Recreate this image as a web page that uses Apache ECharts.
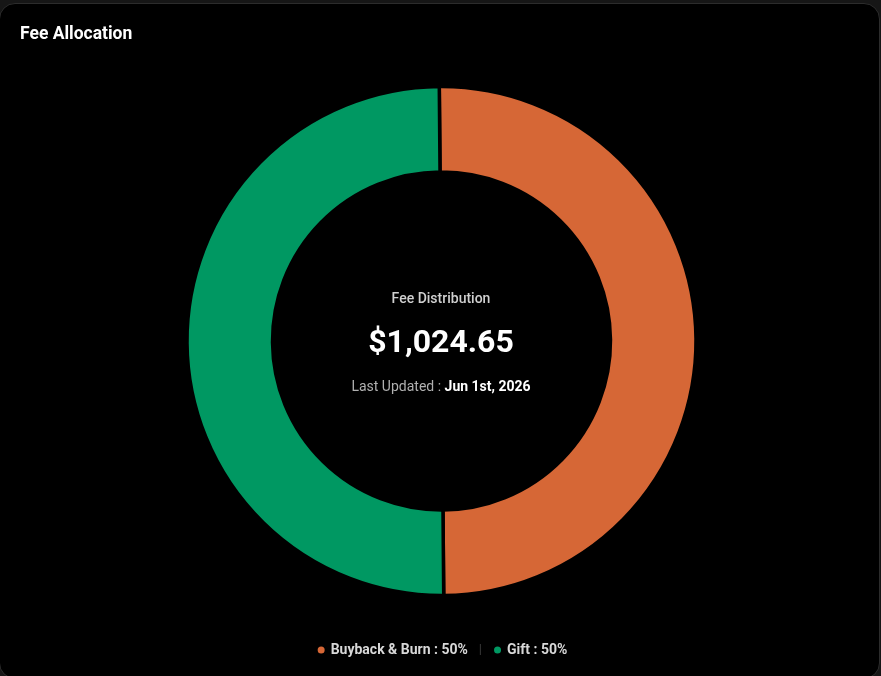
<!DOCTYPE html>
<html>
<head>
<meta charset="utf-8">
<script src="https://cdn.jsdelivr.net/npm/echarts@6/dist/echarts.min.js"></script>
<style>
    html, body { margin: 0; padding: 0; background: #161616; overflow: hidden; }
    #card {
        position: absolute;
        left: -1px;
        top: 3px;
        width: 881px;
        height: 676px;
        box-sizing: border-box;
        border: 1px solid #2c2c2c;
        border-radius: 16px;
        background: #000;
        overflow: hidden;
    }
    #chart { position: absolute; left: 1px; top: -4px; width: 881px; height: 676px; }
</style>
</head>
<body>
<div id="card"><div id="chart"></div></div>
<script>
    // slices
    var categories = ['Buyback & Burn', 'Gift'];
    var shares = [50, 50];
    var colors = ['#d66736', '#009862'];
    // centre text
    var totalFees = '$1,024.65';
    var lastUpdated = 'Jun 1st, 2026';

    var total = shares.reduce(function (a, b) { return a + b; }, 0);
    var pieData = categories.map(function (c, i) {
        return { name: c, value: shares[i], itemStyle: { color: colors[i] } };
    });

    var chart = echarts.init(document.getElementById('chart'));
    var option = {
        backgroundColor: 'transparent',
        textStyle: { fontFamily: 'Roboto' },
        title: {
            text: 'Fee Allocation',
            left: 14,
            top: 21,
            textStyle: { color: '#fff', fontSize: 17.5, fontWeight: 'bold', fontFamily: 'Roboto' }
        },
        legend: {
            data: categories,
            left: 'center',
            top: 638,
            icon: 'circle',
            itemWidth: 9,
            itemHeight: 9,
            itemGap: 10,
            formatter: function (name) {
                var i = categories.indexOf(name);
                var pct = Math.round(shares[i] / total * 100);
                var txt = name + ' : ' + pct + '%';
                if (i < categories.length - 1) return '{t|' + txt + '}{s||}';
                return '{t|' + txt + '}';
            },
            textStyle: {
                color: '#d8d8d8',
                fontSize: 14,
                fontWeight: 'bold',
                fontFamily: 'Roboto',
                rich: {
                    t: { color: '#d8d8d8', fontSize: 14, fontWeight: 'bold', fontFamily: 'Roboto' },
                    s: { color: '#3a3a3a', fontSize: 13, fontWeight: 'normal', padding: [0, 0, 0, 11] }
                }
            }
        },
        graphic: [
            {
                type: 'text', x: 440, y: 299,
                style: { text: 'Fee Distribution', fill: '#d0d0d0', font: '500 14px Roboto', textAlign: 'center', textVerticalAlign: 'middle' }
            },
            {
                type: 'text', x: 440, y: 344,
                style: { text: totalFees, fill: '#fff', font: 'bold 32px Roboto', textAlign: 'center', textVerticalAlign: 'middle' }
            },
            {
                type: 'text', x: 440, y: 387,
                style: {
                    text: '{a|Last Updated : }{b|' + lastUpdated + '}',
                    textAlign: 'center', textVerticalAlign: 'middle',
                    rich: {
                        a: { fill: '#b0b0b0', font: '14px Roboto' },
                        b: { fill: '#fff', font: 'bold 14px Roboto' }
                    }
                }
            }
        ],
        series: [
            {
                type: 'pie',
                center: [440.5, 341],
                radius: [169, 254.5],
                startAngle: 90.5,
                silent: true,
                label: { show: false },
                labelLine: { show: false },
                itemStyle: { borderColor: '#000', borderWidth: 3.5 },
                data: pieData
            }
        ]
    };
    chart.setOption(option);
</script>
</body>
</html>
